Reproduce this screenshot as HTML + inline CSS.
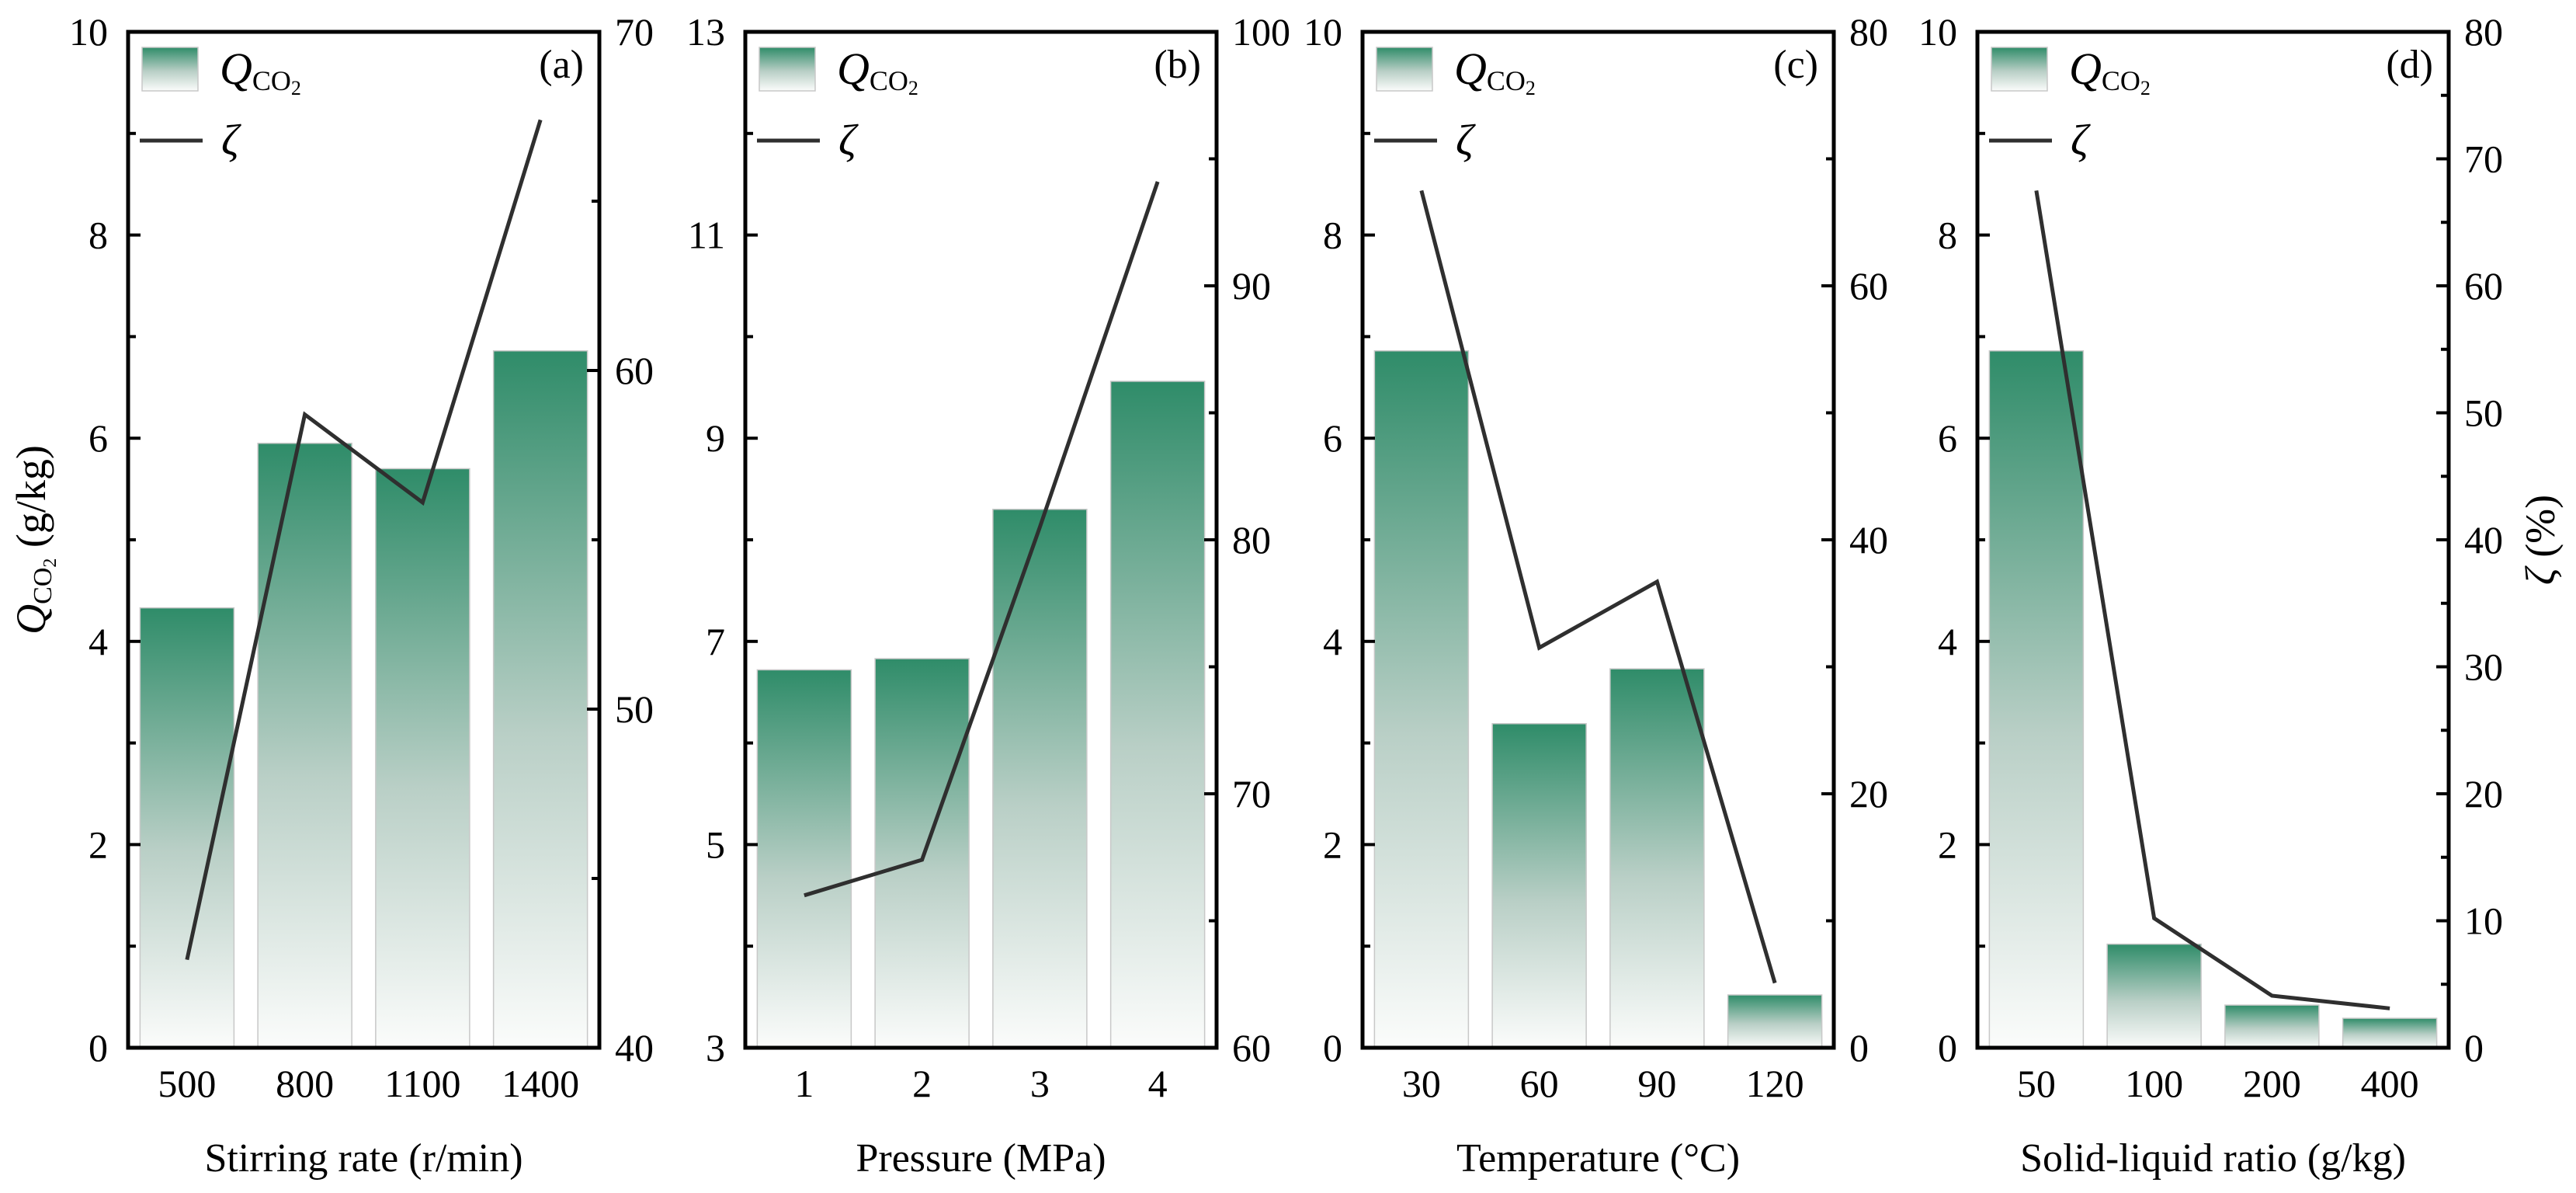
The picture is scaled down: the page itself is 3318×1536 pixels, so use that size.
<!DOCTYPE html>
<html><head><meta charset="utf-8"><style>
html,body{margin:0;padding:0;background:#fff;}
svg text{font-family:"Liberation Serif",serif;fill:#000;}
</style></head><body>
<svg width="3318" height="1531" viewBox="0 0 3318 1531" xmlns="http://www.w3.org/2000/svg">
<defs>
<linearGradient id="g" x1="0" y1="0" x2="0" y2="1">
<stop offset="0" stop-color="#2f8c69"/>
<stop offset="0.55" stop-color="#b9cfc6"/>
<stop offset="1" stop-color="#fbfcfb"/>
</linearGradient>
</defs>
<g id="content"></g>
<text transform="translate(58,695) rotate(-90)" font-size="54" text-anchor="middle"><tspan font-style="italic">Q</tspan><tspan font-size="34" dy="8">CO</tspan><tspan font-size="24" dy="6">2</tspan><tspan dy="-14"> (g/kg)</tspan></text>
<text transform="translate(3290,695) rotate(-90)" font-size="54" text-anchor="middle"><tspan font-style="italic">ζ</tspan> (%)</text>
<script>
(function(){
var NS="http://www.w3.org/2000/svg",root=document.getElementById("content");
function el(t,a,txt,par){var e=document.createElementNS(NS,t);for(var k in a)e.setAttribute(k,a[k]);if(txt!=null)e.textContent=txt;(par||root).appendChild(e);return e;}
var T=41,B=1349,H=B-T,W=607;
var panels=[
{L:165,lmin:0,lmax:10,lstep:2,rmin:40,rmax:70,rstep:10,q:[4.33,5.95,5.70,6.86],z:[42.6,58.7,56.1,67.4],cats:["500","800","1100","1400"],xl:"Stirring rate (r/min)",tag:"(a)"},
{L:960,lmin:3,lmax:13,lstep:2,rmin:60,rmax:100,rstep:10,q:[6.72,6.83,8.30,9.56],z:[66.0,67.4,80.5,94.1],cats:["1","2","3","4"],xl:"Pressure (MPa)",tag:"(b)"},
{L:1755,lmin:0,lmax:10,lstep:2,rmin:0,rmax:80,rstep:20,q:[6.86,3.19,3.73,0.52],z:[67.5,31.5,36.7,5.1],cats:["30","60","90","120"],xl:"Temperature (\u00B0C)",tag:"(c)"},
{L:2547,lmin:0,lmax:10,lstep:2,rmin:0,rmax:80,rstep:10,q:[6.86,1.02,0.42,0.29],z:[67.5,10.2,4.1,3.1],cats:["50","100","200","400"],xl:"Solid-liquid ratio (g/kg)",tag:"(d)"}
];
panels.forEach(function(p){
 var L=p.L,R=L+W;
 function yl(v){return B-(v-p.lmin)/(p.lmax-p.lmin)*H;}
 function yr(v){return B-(v-p.rmin)/(p.rmax-p.rmin)*H;}
 var cx=function(i){return L+W/8*(2*i+1);};
 for(var i=0;i<4;i++){var y=yl(p.q[i]);el("rect",{x:cx(i)-60.5,y:y,width:121,height:B-y,fill:"url(#g)",stroke:"#c8c8c8","stroke-width":1.5});}
 var pts=p.z.map(function(v,i){return cx(i)+","+yr(v);}).join(" ");
 el("polyline",{points:pts,fill:"none",stroke:"#2f2f2f","stroke-width":5});
 el("rect",{x:L,y:T,width:W,height:H,fill:"none",stroke:"#000","stroke-width":5});
 for(var v=p.lmin;v<=p.lmax+1e-9;v+=p.lstep){var y=yl(v);
  el("line",{x1:L,x2:L+16,y1:y,y2:y,stroke:"#000","stroke-width":4});
  el("text",{x:L-26,y:y+17,"font-size":50,"text-anchor":"end"},String(v));
  if(v+p.lstep<=p.lmax+1e-9){var ym=yl(v+p.lstep/2);el("line",{x1:L,x2:L+10,y1:ym,y2:ym,stroke:"#000","stroke-width":4});}
 }
 for(var v=p.rmin;v<=p.rmax+1e-9;v+=p.rstep){var y=yr(v);
  el("line",{x1:R-16,x2:R,y1:y,y2:y,stroke:"#000","stroke-width":4});
  el("text",{x:R+20,y:y+17,"font-size":50},String(v));
  if(v+p.rstep<=p.rmax+1e-9){var ym=yr(v+p.rstep/2);el("line",{x1:R-10,x2:R,y1:ym,y2:ym,stroke:"#000","stroke-width":4});}
 }
 for(var i=0;i<4;i++)el("text",{x:cx(i),y:1412,"font-size":50,"text-anchor":"middle"},p.cats[i]);
 el("text",{x:L+W/2,y:1508,"font-size":52,"text-anchor":"middle"},p.xl);
 el("rect",{x:L+18,y:61,width:72,height:56,fill:"url(#g)",stroke:"#c8c8c8","stroke-width":1.5});
 var t=el("text",{x:L+118,y:108,"font-size":58});
 el("tspan",{"font-style":"italic"},"Q",t);
 el("tspan",{"font-size":36,dy:8},"CO",t);
 el("tspan",{"font-size":26,dy:6},"2",t);
 el("line",{x1:L+15,x2:L+96,y1:181,y2:181,stroke:"#2f2f2f","stroke-width":5});
 el("text",{x:L+120,y:199,"font-size":56,"font-style":"italic"},"\u03B6");
 el("text",{x:R-20,y:100,"font-size":52,"text-anchor":"end"},p.tag);
});
})();
</script>
</svg>
</body></html>
